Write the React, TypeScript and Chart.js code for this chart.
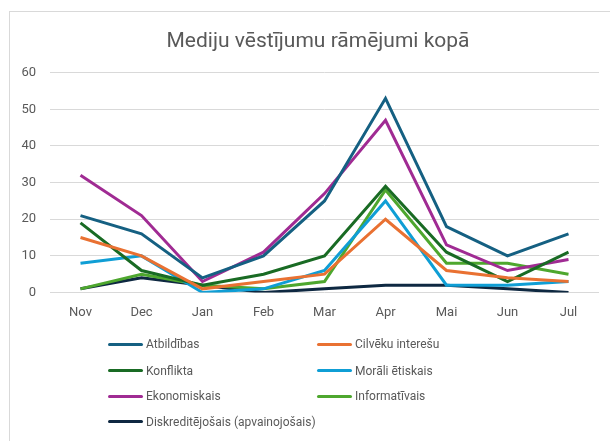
import React, { useEffect, useRef } from "react";
import { Chart, registerables } from "chart.js";

Chart.register(...registerables);

const months = ["Nov", "Dec", "Jan", "Feb", "Mar", "Apr", "Mai", "Jun", "Jul"];

const atbildibas = [21, 16, 4, 10, 25, 53, 18, 10, 16];
const cilveku = [15, 10, 1, 3, 5, 20, 6, 4, 3];
const konflikta = [19, 6, 2, 5, 10, 29, 11, 3, 11];
const morali = [8, 10, 0, 1, 6, 25, 2, 2, 3];
const ekonomiskais = [32, 21, 3, 11, 27, 47, 13, 6, 9];
const informativais = [1, 5, 2, 1, 3, 28, 8, 8, 5];
const diskreditejosais = [1, 4, 2, 0, 1, 2, 2, 1, 0];

const yTicks = [0, 10, 20, 30, 40, 50, 60];

const titleText = "Mediju vēstījumu rāmējumi kopā";

const series = [
  { label: "Atbildības", data: atbildibas, color: "#156082" },
  { label: "Cilvēku interešu", data: cilveku, color: "#E97132" },
  { label: "Konflikta", data: konflikta, color: "#196B24" },
  { label: "Morāli ētiskais", data: morali, color: "#0F9ED5" },
  { label: "Ekonomiskais", data: ekonomiskais, color: "#A02B93" },
  { label: "Informatīvais", data: informativais, color: "#4EA72E" },
  { label: "Diskreditējošais (apvainojošais)", data: diskreditejosais, color: "#0E2841" },
];

const FONT = "Roboto, 'Liberation Sans', sans-serif";

export default function App() {
  const canvasRef = useRef<HTMLCanvasElement | null>(null);

  useEffect(() => {
    if (!canvasRef.current) return;
    const chart = new Chart(canvasRef.current, {
      type: "line",
      data: {
        labels: months,
        datasets: series.map((s) => ({
          label: s.label,
          data: s.data,
          borderColor: s.color,
          backgroundColor: s.color,
          borderWidth: 3,
          pointRadius: 0,
          pointHoverRadius: 0,
          tension: 0,
          fill: false,
        })),
      },
      options: {
        animation: false,
        responsive: false,
        maintainAspectRatio: false,
        layout: { padding: { left: 0, right: 11, top: 72.7, bottom: 0 } },
        plugins: {
          legend: { display: false },
          tooltip: { enabled: false },
          title: { display: false },
        },
        scales: {
          x: {
            type: "category",
            offset: true,
            grid: { display: false, drawTicks: false },
            border: { display: false },
            ticks: {
              color: "#595959",
              font: { family: FONT, size: 13 },
              padding: 12,
              maxRotation: 0,
            },
            afterFit: (scale: any) => {
              scale.height = 148.5;
            },
          },
          y: {
            min: 0,
            max: 60,
            grid: { color: "#d9d9d9", lineWidth: 1, drawTicks: false },
            border: { display: false },
            afterBuildTicks: (scale: any) => {
              scale.ticks = yTicks.map((v) => ({ value: v }));
            },
            ticks: {
              color: "#595959",
              font: { family: FONT, size: 13 },
              padding: 14,
            },
            afterFit: (scale: any) => {
              scale.width = 50;
            },
          },
        },
      },
    });
    return () => chart.destroy();
  }, []);

  const rowTop = [344.3, 370.7, 396.3, 421.7];
  const colLeft = [108, 317];

  return (
    <div
      style={{
        position: "fixed",
        left: 0,
        top: 0,
        width: 610,
        height: 441,
        background: "#ffffff",
        overflow: "hidden",
      }}
    >
      <div
        style={{
          position: "absolute",
          left: 9,
          top: 11,
          width: 640,
          height: 460,
          border: "1px solid #d9d9d9",
          boxSizing: "border-box",
        }}
      />
      <canvas
        ref={canvasRef}
        width={610}
        height={441}
        style={{ position: "absolute", left: 0, top: 0, width: 610, height: 441 }}
      />
      <div
        style={{
          position: "absolute",
          left: 318 - 200,
          top: 27,
          width: 400,
          height: 26,
          lineHeight: "26px",
          textAlign: "center",
          fontFamily: FONT,
          fontSize: 21,
          color: "#595959",
          whiteSpace: "nowrap",
        }}
      >
        {titleText}
      </div>
      {series.map((s, i) => (
        <div
          key={s.label}
          style={{
            position: "absolute",
            left: colLeft[i % 2],
            top: rowTop[Math.floor(i / 2)] - 8,
            height: 16,
            display: "flex",
            alignItems: "center",
            fontFamily: FONT,
            fontSize: 12,
            color: "#595959",
            whiteSpace: "nowrap",
          }}
        >
          <span
            style={{
              display: "inline-block",
              width: 35,
              height: 3,
              borderRadius: 1.5,
              background: s.color,
              marginRight: 3,
            }}
          />
          <span>{s.label}</span>
        </div>
      ))}
    </div>
  );
}
